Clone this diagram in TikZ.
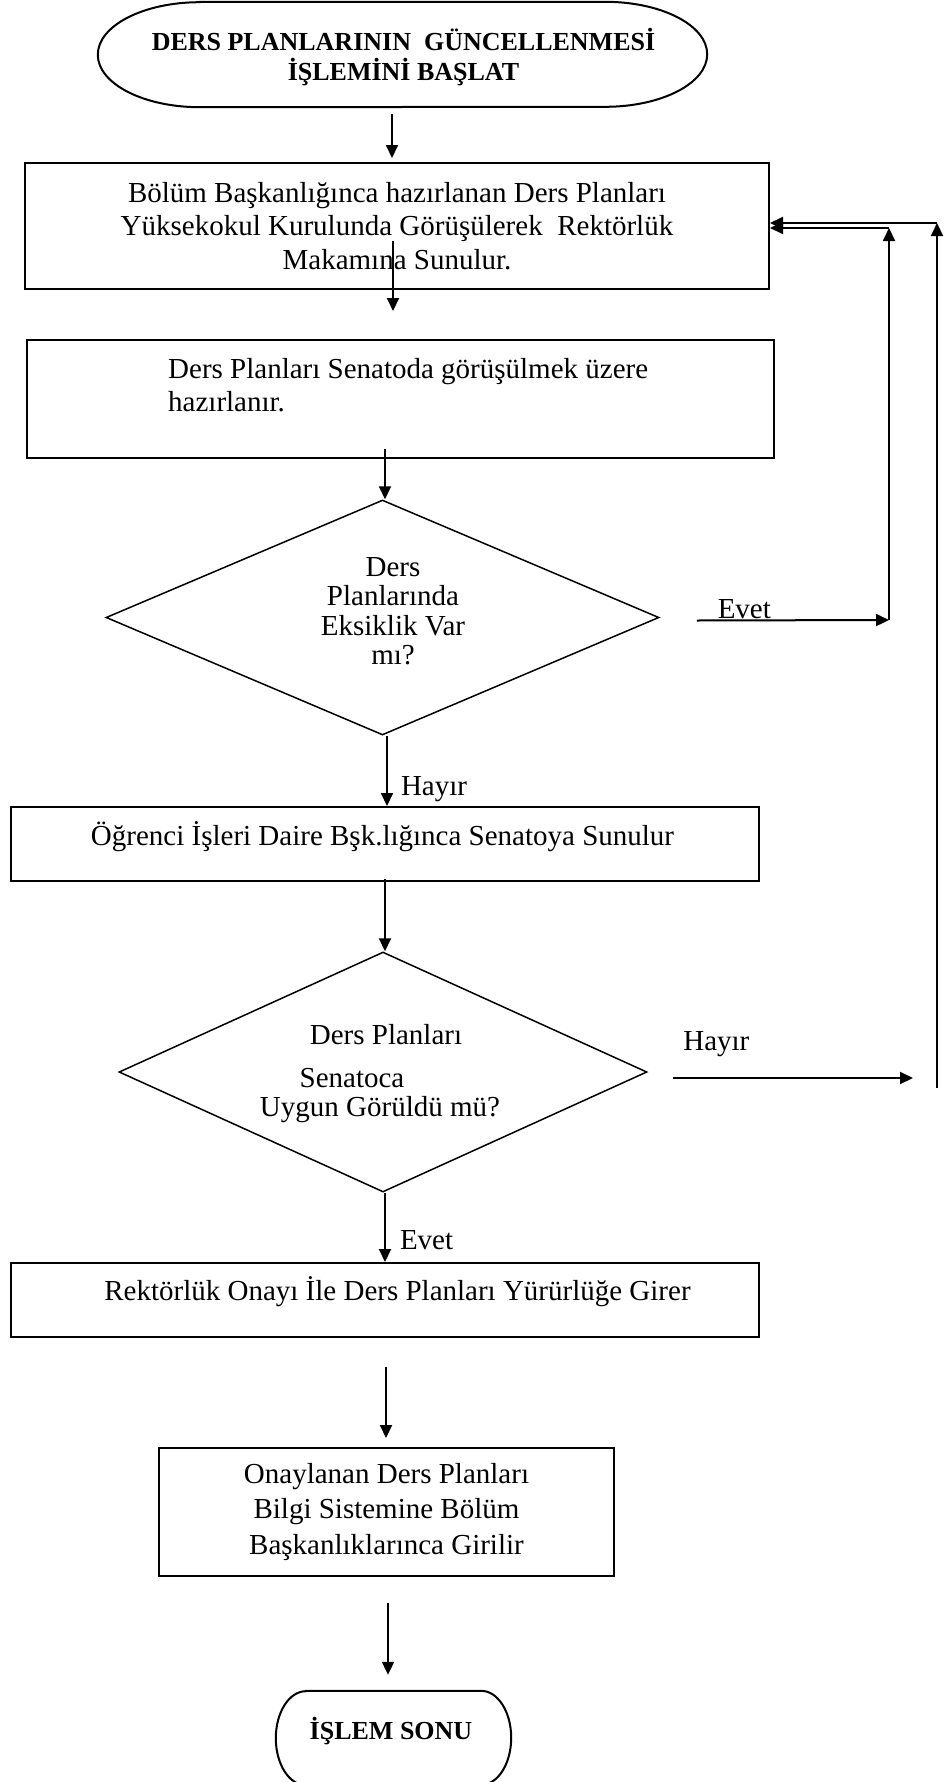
\documentclass[tikz,border=0pt]{standalone}
\usepackage{fontspec}
\setmainfont{Liberation Serif}
\usetikzlibrary{arrows.meta,shapes.geometric}
\begin{document}
\begin{tikzpicture}[x=1pt,y=1pt,
  txt/.style={font=\fontsize{29}{33.5}\selectfont, inner sep=0pt, align=center},
  ttl/.style={font=\bfseries\fontsize{26}{30}\selectfont, inner sep=0pt, align=center},
  procbox/.style={draw, line width=2pt, inner sep=0pt},
  decision/.style={draw, diamond, line width=1.5pt, inner sep=0pt},
  arr/.style={line width=2pt, -{Triangle[length=13pt,width=12pt]}},
  outline/.style={line width=2pt}]
\useasboundingbox (0,0) rectangle (948,-1782);
\clip (0,0) rectangle (948,-1782);

% start terminator
\node[minimum width=609pt, minimum height=105pt, inner sep=0pt] (start) at (402.5,-54.5) {};
\draw[outline] ([xshift=102pt]start.north west) -- ([xshift=-102pt]start.north east)
  arc[start angle=90, end angle=-90, x radius=102, y radius=52.5]
  -- ([xshift=102pt]start.south west)
  arc[start angle=270, end angle=90, x radius=102, y radius=52.5] -- cycle;
\node[ttl] (starttext) at (403.5,-57) {DERS PLANLARININ\ \ GÜNCELLENMESİ\\İŞLEMİNİ BAŞLAT};

% process boxes and decisions
\node[procbox, txt, minimum width=744pt, minimum height=126pt] (box1) at (397,-226)
  {Bölüm Başkanlığınca hazırlanan Ders Planları\\Yüksekokul Kurulunda Görüşülerek\ \ Rektörlük\\Makamına Sunulur.};

\node[procbox, minimum width=747pt, minimum height=118pt] (box2) at (400.5,-399) {};
\node[txt, align=left, anchor=west] (box2text) at (168,-385)
  {Ders Planları Senatoda görüşülmek üzere\\hazırlanır.};

\node[decision, minimum width=553pt, minimum height=235pt] (d1) at (382.5,-617.5) {};
\node[txt, font=\fontsize{29}{29.5}\selectfont] (d1text) at (393,-611)
  {Ders\\Planlarında\\Eksiklik Var\\mı?};

\node[procbox, minimum width=748pt, minimum height=74pt] (box3) at (385,-844) {};
\node[txt] (box3text) at (382.5,-837) {Öğrenci İşleri Daire Bşk.lığınca Senatoya Sunulur};

\node[decision, minimum width=528pt, minimum height=240pt] (d2) at (383,-1072) {};
\node[txt] (d2a) at (386,-1035) {Ders Planları};
\node[txt] (d2b) at (352,-1078) {Senatoca};
\node[txt] (d2c) at (380,-1110) {Uygun Görüldü mü?};

\node[procbox, minimum width=748pt, minimum height=74pt] (box4) at (385,-1300) {};
\node[txt] (box4text) at (397.5,-1292) {Rektörlük Onayı İle Ders Planları Yürürlüğe Girer};

\node[procbox, txt, minimum width=455pt, minimum height=128pt, font=\fontsize{29}{35.5}\selectfont] (box5) at (386.5,-1512)
  {Onaylanan Ders Planları\\Bilgi Sistemine Bölüm\\Başkanlıklarınca Girilir};

% end terminator
\node[minimum width=235pt, minimum height=94pt, inner sep=0pt] (finish) at (393.5,-1738) {};
\draw[outline] ([xshift=30pt]finish.north west) -- ([xshift=-30pt]finish.north east)
  arc[start angle=90, end angle=-90, x radius=30, y radius=47]
  -- ([xshift=30pt]finish.south west)
  arc[start angle=270, end angle=90, x radius=30, y radius=47] -- cycle;
\node[ttl] (finishtext) at (391,-1731) {İŞLEM SONU};

% main flow
\draw[arr] ([xshift=-10.5pt,yshift=-7pt]start.south) -- ([xshift=-5pt,yshift=4pt]box1.north);
\draw[arr] ([xshift=-4pt,yshift=49pt]box1.south) -- ([xshift=-7.5pt,yshift=28pt]box2.north);
\draw[arr] ([xshift=-15.5pt,yshift=10pt]box2.south) -- ([xshift=2.5pt]d1.north);
\draw[arr] ([xshift=4.5pt]d1.south) -- ([xshift=2pt]box3.north)
  node[txt, pos=0.76, right=13pt] (no1) {Hayır};
\draw[arr] ([yshift=3pt]box3.south) -- ([xshift=2pt]d2.north);
\draw[arr] ([xshift=2pt]d2.south) -- (box4.north)
  node[txt, pos=0.69, right=14pt] (yes2) {Evet};
\draw[arr] ([xshift=1pt,yshift=-29pt]box4.south) -- ([xshift=-0.5pt,yshift=9pt]box5.north);
\draw[arr] ([xshift=1.5pt,yshift=-26pt]box5.south) -- ([xshift=-5.5pt,yshift=16pt]finish.north);

% return loops
\coordinate (evetend) at (889,-620);
\coordinate (innertop) at (889,-228);
\coordinate (hayirend) at (913,-1078);
\coordinate (outerbottom) at (937,-1088);
\coordinate (outertop) at (937,-223);

\draw[arr] ([xshift=37pt,yshift=-3pt]d1.east) -- (evetend)
  node[txt, pos=0.104, anchor=base west, yshift=2pt] (yes1) {Evet};
\draw[arr] (evetend) -- (innertop);
\draw[arr] (innertop) -- (innertop -| box1.east);

\draw[arr] ([xshift=25pt,yshift=-6pt]d2.east) -- (hayirend)
  node[txt, pos=0.04, anchor=base west, yshift=28pt] (no2) {Hayır};
\draw[arr] (outerbottom) -- (outertop);
\draw[arr] (outertop) -- (outertop -| box1.east);
\end{tikzpicture}
\end{document}
